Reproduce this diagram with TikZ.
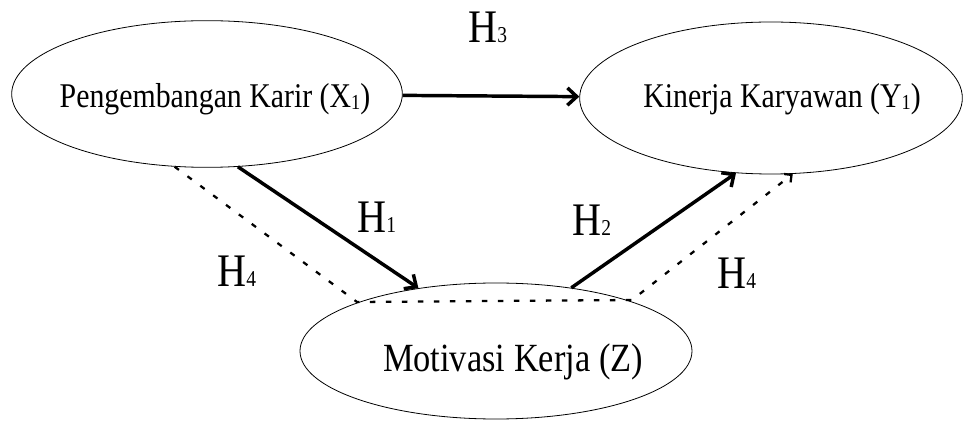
\documentclass[tikz,border=0pt]{standalone}
\usepackage{fontspec}
\setmainfont{Liberation Serif}
\newfontfamily\narrowserif[FakeStretch=0.86]{Liberation Serif}
\usetikzlibrary{arrows.meta,shapes.geometric}

\newcommand{\lowidx}[1]{\raisebox{-1.5pt}{\fontsize{16}{16}\selectfont #1}}
\newcommand{\hyp}[1]{H{\fontsize{17}{17}\selectfont #1}}

\begin{document}
\begin{tikzpicture}[x=0.75pt, y=-0.75pt,
  var/.style={draw, ellipse, line width=0.6pt, inner sep=0pt},
  vtext/.style={anchor=base, inner sep=0pt, font=\narrowserif\fontsize{26}{28}\selectfont},
  hlab/.style={anchor=base west, inner sep=0pt, font=\narrowserif\fontsize{35}{36}\selectfont},
  direct/.style={line width=2.6pt, -{Straight Barb[length=7pt,width=13pt]}},
  indirect/.style={line width=1.7pt, dash pattern=on 4pt off 8pt, -{Straight Barb[length=4pt,width=8pt]}}
]
  \useasboundingbox (0,0) rectangle (964,427);

  % variables
  \node[var, minimum width=293pt, minimum height=110pt] (x1) at (207,94)  {};
  \node[var, minimum width=287pt, minimum height=114pt] (y1) at (771,98)  {};
  \node[var, minimum width=294pt, minimum height=102pt] (z)  at (496,351) {};

  \node[vtext] (x1t) at (215,108) {Pengembangan Karir (X\lowidx{1})};
  \node[vtext] (y1t) at (782,108) {Kinerja Karyawan (Y\lowidx{1})};
  \node[vtext, font=\narrowserif\fontsize{30}{31}\selectfont] (zt) at (513,372) {Motivasi Kerja (Z)};

  % corners of the indirect path
  \coordinate (zl) at (357,302);
  \coordinate (zr) at (632,300);

  % direct effects
  \draw[direct] (x1) -- (y1);
  \draw[direct] (x1.-67.7) -- (z.141.5);
  \draw[direct] (z.40) -- (y1.-115.6);

  % indirect effect
  \draw[indirect] (x1.-114) -- (zl) -- (zr) -- (y1.-74.4);

  % hypotheses
  \node[hlab] (h3)  at (468,43)  {\hyp{3}};
  \node[hlab] (h1)  at (357,233) {\hyp{1}};
  \node[hlab] (h2)  at (572,236) {\hyp{2}};
  \node[hlab] (h4a) at (217,287) {\hyp{4}};
  \node[hlab] (h4b) at (717,289) {\hyp{4}};
\end{tikzpicture}
\end{document}
